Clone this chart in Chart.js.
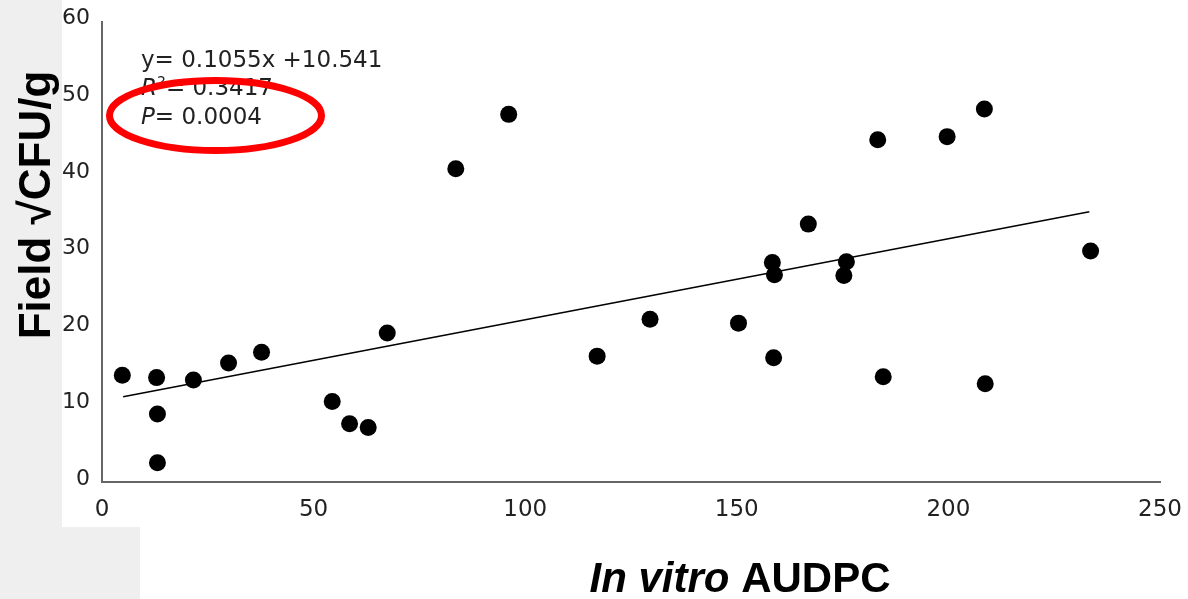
<!DOCTYPE html>
<html>
<head>
<meta charset="utf-8">
<script src="https://cdn.jsdelivr.net/npm/chart.js"></script>
<style>
  html, body { margin: 0; padding: 0; background: #ffffff; }
  .wrap { position: relative; width: 1188px; height: 599px; overflow: hidden; }
  .grey { position: absolute; background: #efefef; }
  canvas { position: absolute; left: 0; top: 0; }
</style>
</head>
<body>
<div class="wrap">
  <div class="grey" style="left:0;top:0;width:62px;height:599px"></div>
  <div class="grey" style="left:0;top:527px;width:140px;height:72px"></div>
  <canvas id="scatterChart" width="1188" height="599"></canvas>
</div>
<script>
// In vitro AUDPC (x) vs field sqrt CFU/g (y)
const audpc = [4.8, 12.9, 13.1, 13.1, 21.6, 29.9, 37.7, 54.4, 58.5, 62.9, 67.4, 83.6, 96.1, 117.0,
  129.5, 150.4, 158.4, 158.9, 158.7, 166.9, 175.9, 175.3, 183.3, 184.6, 199.7, 208.5, 208.7, 233.6];
const fieldCfu = [13.9, 13.6, 8.85, 2.5, 13.3, 15.5, 16.9, 10.5, 7.6, 7.1, 19.4, 40.8, 47.9, 16.4,
  21.2, 20.7, 28.6, 27.0, 16.2, 33.6, 28.7, 26.9, 44.6, 13.7, 45.0, 48.6, 12.8, 30.1];

// regression line ends
const fitX = [5, 233.3];
const fitY = [11.1, 35.2];

const xTicks = [0, 50, 100, 150, 200, 250];
const yTicks = [0, 10, 20, 30, 40, 50, 60];

const statLines = ['y= 0.1055x +10.541', '= 0.3417', '= 0.0004'];

const points = audpc.map((x, i) => ({ x: x, y: fieldCfu[i] }));
const fitLine = fitX.map((x, i) => ({ x: x, y: fitY[i] }));

// axis titles, stats text and the red ring
const overlay = {
  id: 'overlay',
  afterDraw(chart) {
    const ctx = chart.ctx;
    ctx.save();
    ctx.fillStyle = '#000';

    // x title: "In vitro" italic bold, "AUDPC" bold
    ctx.textBaseline = 'alphabetic';
    ctx.textAlign = 'left';
    ctx.font = 'italic bold 42px "Liberation Sans", Arial, sans-serif';
    const part1 = 'In vitro ';
    const w1 = ctx.measureText(part1).width;
    ctx.font = 'bold 42px "Liberation Sans", Arial, sans-serif';
    const w2 = ctx.measureText('AUDPC').width;
    let x0 = 740 - (w1 + w2) / 2;
    ctx.font = 'italic bold 42px "Liberation Sans", Arial, sans-serif';
    ctx.fillText(part1, x0, 592);
    ctx.font = 'bold 42px "Liberation Sans", Arial, sans-serif';
    ctx.fillText('AUDPC', x0 + w1, 592);

    // y title
    ctx.save();
    ctx.translate(50, 205);
    ctx.rotate(-Math.PI / 2);
    ctx.textAlign = 'center';
    ctx.font = 'bold 44px "Liberation Sans", Arial, sans-serif';
    ctx.fillText('Field \u221ACFU/g', 0, 0);
    ctx.restore();

    // regression stats
    ctx.fillStyle = '#222';
    ctx.font = '23px "DejaVu Sans", sans-serif';
    ctx.fillText(statLines[0], 141, 67);
    ctx.font = 'italic 23px "DejaVu Sans", sans-serif';
    ctx.fillText('R', 141, 95);
    let rw = ctx.measureText('R').width;
    ctx.font = '14px "DejaVu Sans", sans-serif';
    ctx.fillText('2', 141 + rw, 86);
    let sw = ctx.measureText('2').width;
    ctx.font = '23px "DejaVu Sans", sans-serif';
    ctx.fillText(statLines[1], 141 + rw + sw, 95);
    ctx.font = 'italic 23px "DejaVu Sans", sans-serif';
    ctx.fillText('P', 141, 124);
    let pw = ctx.measureText('P').width;
    ctx.font = '23px "DejaVu Sans", sans-serif';
    ctx.fillText(statLines[2], 141 + pw, 124);

    // red ring
    ctx.beginPath();
    ctx.ellipse(215.5, 115.5, 106, 35, 0, 0, Math.PI * 2);
    ctx.strokeStyle = '#ff0000';
    ctx.lineWidth = 7;
    ctx.stroke();
    ctx.restore();
  }
};

const ctx = document.getElementById('scatterChart').getContext('2d');
new Chart(ctx, {
  type: 'scatter',
  data: {
    datasets: [
      {
        label: 'Isolates',
        data: points,
        backgroundColor: '#000',
        borderWidth: 0,
        pointRadius: 8.5,
        pointHoverRadius: 8.5
      },
      {
        type: 'line',
        label: 'Fit',
        data: fitLine,
        borderColor: '#000',
        borderWidth: 1.5,
        pointRadius: 0,
        fill: false
      }
    ]
  },
  options: {
    responsive: false,
    animation: false,
    events: [],
    layout: { padding: { left: 0, top: 21.5, right: 28, bottom: 0 } },
    plugins: {
      legend: { display: false },
      tooltip: { enabled: false }
    },
    scales: {
      x: {
        type: 'linear',
        min: 0,
        max: 250,
        afterBuildTicks: (scale) => { scale.ticks = xTicks.map(v => ({ value: v })); },
        afterFit: (scale) => {
          scale.height = 117;
          scale.paddingLeft = 0;
          scale.paddingRight = 0;
        },
        grid: { display: false, drawTicks: false },
        border: { display: true, color: '#666', width: 2 },
        ticks: {
          padding: 14,
          color: '#222',
          font: { family: '"DejaVu Sans", sans-serif', size: 23 }
        }
      },
      y: {
        type: 'linear',
        min: 0,
        max: 60,
        afterBuildTicks: (scale) => { scale.ticks = yTicks.map(v => ({ value: v })); },
        afterFit: (scale) => {
          scale.width = 102;
          scale.paddingTop = 0;
          scale.paddingBottom = 0;
        },
        grid: { display: false, drawTicks: false },
        border: { display: true, color: '#666', width: 2 },
        ticks: {
          padding: 12,
          labelOffset: -3,
          color: '#222',
          font: { family: '"DejaVu Sans", sans-serif', size: 22 }
        }
      }
    }
  },
  plugins: [overlay]
});
</script>
</body>
</html>
